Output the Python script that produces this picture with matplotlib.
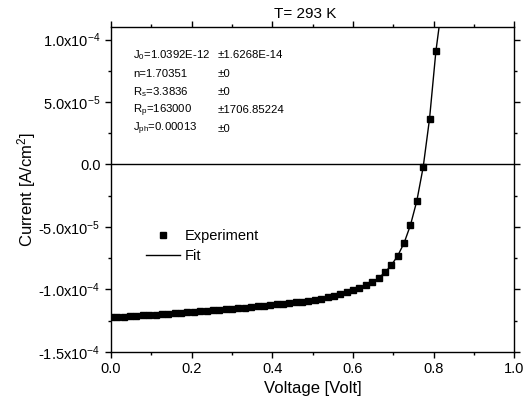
import matplotlib
matplotlib.use('Agg')
import matplotlib.pyplot as plt
from matplotlib.ticker import MultipleLocator
from matplotlib.lines import Line2D

plt.rcParams['font.family'] = 'Liberation Sans'
plt.rcParams['mathtext.fontset'] = 'custom'
plt.rcParams['mathtext.rm'] = 'Liberation Sans'
plt.rcParams['mathtext.it'] = 'Liberation Sans'

# measured J-V points (V in Volt, J in uA/cm^2)
voltage = [0.0, 0.0158, 0.0316, 0.0474, 0.0632, 0.079, 0.0948, 0.1106, 0.1264, 0.1422,
           0.158, 0.1738, 0.1896, 0.2054, 0.2212, 0.237, 0.2528, 0.2686, 0.2844, 0.3002,
           0.316, 0.3318, 0.3476, 0.3634, 0.3792, 0.395, 0.4108, 0.4266, 0.4424, 0.4582,
           0.474, 0.4898, 0.5056, 0.5214, 0.5372, 0.553, 0.5688, 0.5846, 0.6004, 0.6162,
           0.632, 0.6478, 0.6636, 0.6794, 0.6952, 0.711, 0.7268, 0.7426, 0.7584, 0.7742,
           0.79, 0.8058]
current_uA = [-122.3, -122.0, -121.7, -121.4, -121.1, -120.8, -120.5, -120.2, -119.8, -119.5,
              -119.1, -118.7, -118.3, -118.0, -117.5, -117.1, -116.7, -116.3, -115.8, -115.4,
              -114.9, -114.5, -114.0, -113.5, -113.0, -112.5, -112.0, -111.5, -110.9, -110.4,
              -109.9, -109.1, -108.3, -107.3, -106.2, -105.1, -103.8, -102.4, -100.8, -98.9,
              -96.8, -94.1, -90.9, -86.3, -80.6, -73.1, -62.9, -48.6, -29.3, -2.2,
              36.5, 90.6]

# fit curve: through the points and on to the top of the frame
fit_voltage = voltage + [0.8145]
fit_current_uA = current_uA + [112.0]

params = [('J$_0$=1.0392E-12', '\u00b11.6268E-14'),
          ('n=1.70351', '\u00b10'),
          ('R$_s$=3.3836', '\u00b10'),
          ('R$_p$=163000', '\u00b11706.85224'),
          ('J$_{ph}$=0.00013', '\u00b10')]

ytick_vals = [-1.5e-4, -1.0e-4, -5.0e-5, 0.0, 5.0e-5, 1.0e-4]
ytick_labels = ['-1.5x10$^{-4}$', '-1.0x10$^{-4}$', '-5.0x10$^{-5}$', '0.0',
                '5.0x10$^{-5}$', '1.0x10$^{-4}$']

J = [c * 1e-6 for c in current_uA]
Jfit = [c * 1e-6 for c in fit_current_uA]

fig = plt.figure(figsize=(5.24, 4.03), dpi=100)
ax = fig.add_axes([0.2118, 0.1266, 0.7695, 0.8064])

ax.axhline(0, color='black', linewidth=1.0, zorder=1)
ax.plot(fit_voltage, Jfit, color='black', linewidth=1.0, zorder=2)
ax.plot(voltage, J, linestyle='none', marker='s', markersize=4.6,
        color='black', zorder=3)

ax.set_xlim(0, 1.0)
ax.set_ylim(-1.5e-4, 1.1e-4)
ax.xaxis.set_major_locator(MultipleLocator(0.2))
ax.xaxis.set_minor_locator(MultipleLocator(0.1))
ax.set_yticks(ytick_vals)
ax.set_yticklabels(ytick_labels)
ax.yaxis.set_minor_locator(MultipleLocator(2.5e-5))
ax.tick_params(which='both', direction='out', top=True, right=True,
               labelsize=10.5, width=1.0)
ax.tick_params(which='major', length=4)
ax.tick_params(which='minor', length=2.5)
for s in ax.spines.values():
    s.set_linewidth(1.0)

ax.set_xlabel('Voltage [Volt]', fontsize=12, labelpad=3)
ax.set_ylabel('Current [A/cm$^2$]', fontsize=12, labelpad=0)
ax.text(0.481, 1.02, 'T= 293 K', transform=ax.transAxes, fontsize=11,
        ha='center', va='bottom')

# parameter table
for i, (left, right) in enumerate(params):
    y = 0.913 - i * 0.0565
    ax.text(0.055, y, left, transform=ax.transAxes, fontsize=8.2, va='center')
    ax.text(0.265, y, right, transform=ax.transAxes, fontsize=8.2, va='center')

handles = [Line2D([], [], linestyle='none', marker='s', markersize=4.6, color='black'),
           Line2D([], [], color='black', linewidth=1.0)]
ax.legend(handles, ['Experiment', 'Fit'], loc='upper left',
          bbox_to_anchor=(0.055, 0.42), frameon=False, fontsize=10.5,
          handlelength=2.3, handletextpad=0.35, labelspacing=0.45)

fig.savefig('out.png', dpi=100)
